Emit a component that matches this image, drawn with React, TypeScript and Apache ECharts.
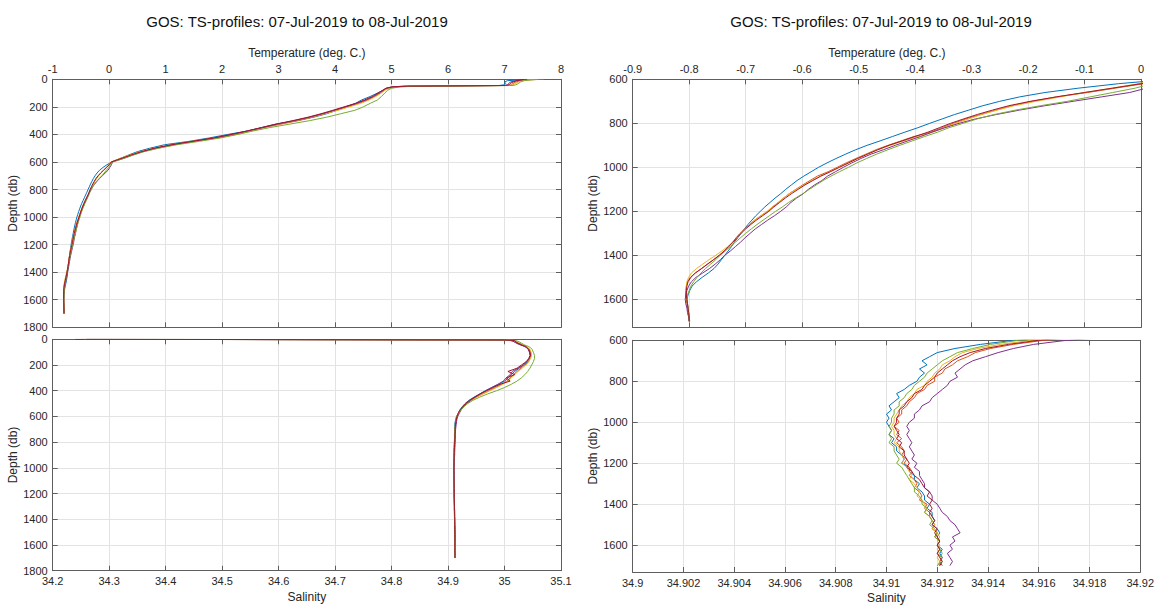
import React, { useEffect, useRef } from "react";
import * as echarts from "echarts";

// ---------- data ----------
const titleText = "GOS: TS-profiles: 07-Jul-2019 to 08-Jul-2019";
const castNames = ["Cast 1", "Cast 2", "Cast 3", "Cast 4", "Cast 5", "Cast 6"];
const castColors = ["#0072BD", "#D95319", "#EDB120", "#7E2F8E", "#77AC30", "#A2142F"];

const depthShallow = [0, 5, 10, 20, 30, 40, 45, 50, 55, 65, 80, 100, 125, 150, 175, 200, 225, 250, 275, 300, 325, 350, 375, 400, 425, 450, 475, 500, 525, 550, 575];
const depthDeep = [600, 620, 640, 660, 680, 700, 720, 740, 760, 780, 800, 820, 840, 860, 880, 900, 920, 940, 960, 980, 1000, 1020, 1040, 1060, 1080, 1100, 1120, 1140, 1160, 1180, 1200, 1220, 1240, 1260, 1280, 1300, 1320, 1340, 1360, 1380, 1400, 1420, 1440, 1460, 1480, 1500, 1520, 1540, 1560, 1580, 1600, 1620, 1640, 1660, 1680, 1700];

// temperature, upper 600 db
const tempShallow1 = [7.30, 7.25, 7.05, 7.0, 7.02, 7.0, 6.9, 5.35, 5.05, 4.95, 4.85, 4.75, 4.62, 4.47, 4.36, 4.2, 4.03, 3.85, 3.62, 3.32, 2.95, 2.7, 2.45, 2.1, 1.78, 1.42, 0.98, 0.72, 0.5, 0.34, 0.19];
const tempShallow2 = [7.70, 7.35, 7.28, 7.2, 7.15, 7.12, 7.05, 5.25, 5.0, 4.92, 4.87, 4.8, 4.7, 4.58, 4.42, 4.22, 4.02, 3.8, 3.6, 3.35, 3.05, 2.75, 2.5, 2.25, 1.92, 1.5, 1.15, 0.85, 0.58, 0.38, 0.2];
const tempShallow3 = [7.55, 7.4, 7.3, 7.25, 7.2, 7.15, 7.1, 5.3, 5.05, 4.95, 4.88, 4.82, 4.72, 4.6, 4.45, 4.25, 4.05, 3.82, 3.58, 3.3, 3.0, 2.72, 2.48, 2.2, 1.9, 1.45, 1.1, 0.8, 0.56, 0.36, 0.19];
const tempShallow4 = [7.4, 7.3, 7.2, 7.1, 7.08, 7.05, 7.0, 5.2, 5.0, 4.9, 4.85, 4.78, 4.68, 4.55, 4.38, 4.18, 3.98, 3.78, 3.55, 3.28, 2.98, 2.72, 2.45, 2.18, 1.88, 1.5, 1.12, 0.82, 0.6, 0.42, 0.25];
const tempShallow5 = [7.6, 7.45, 7.35, 7.28, 7.25, 7.2, 7.15, 5.45, 5.15, 5.0, 4.93, 4.88, 4.82, 4.75, 4.62, 4.5, 4.35, 4.1, 3.85, 3.55, 3.2, 2.85, 2.55, 2.28, 1.98, 1.6, 1.2, 0.88, 0.62, 0.42, 0.25];
const tempShallow6 = [7.35, 7.28, 7.22, 7.15, 7.1, 7.08, 7.02, 5.28, 5.02, 4.9, 4.84, 4.76, 4.66, 4.52, 4.36, 4.16, 3.96, 3.75, 3.52, 3.25, 2.96, 2.7, 2.44, 2.16, 1.86, 1.47, 1.1, 0.8, 0.57, 0.38, 0.21];

// temperature, 600-1700 db
const tempDeep1 = [0.05, -0.04, -0.11, -0.17, -0.215, -0.25, -0.28, -0.305, -0.33, -0.352, -0.374, -0.395, -0.418, -0.44, -0.462, -0.485, -0.505, -0.523, -0.54, -0.556, -0.571, -0.584, -0.597, -0.609, -0.619, -0.629, -0.638, -0.648, -0.657, -0.666, -0.674, -0.682, -0.689, -0.696, -0.702, -0.708, -0.714, -0.720, -0.725, -0.731, -0.737, -0.743, -0.749, -0.756, -0.766, -0.777, -0.787, -0.795, -0.799, -0.802, -0.804, -0.803, -0.802, -0.801, -0.800, -0.799];
const tempDeep2 = [0.04, 0.005, -0.045, -0.095, -0.15, -0.192, -0.228, -0.257, -0.284, -0.31, -0.332, -0.352, -0.372, -0.402, -0.425, -0.448, -0.469, -0.487, -0.505, -0.522, -0.538, -0.554, -0.573, -0.586, -0.599, -0.611, -0.623, -0.633, -0.642, -0.652, -0.661, -0.673, -0.684, -0.693, -0.702, -0.71, -0.717, -0.723, -0.73, -0.737, -0.746, -0.757, -0.767, -0.778, -0.789, -0.798, -0.803, -0.805, -0.806, -0.806, -0.805, -0.804, -0.803, -0.802, -0.801, -0.800];
const tempDeep3 = [0.03, -0.005, -0.05, -0.1, -0.143, -0.186, -0.225, -0.255, -0.282, -0.305, -0.328, -0.349, -0.369, -0.394, -0.42, -0.444, -0.466, -0.485, -0.502, -0.518, -0.535, -0.551, -0.567, -0.583, -0.597, -0.61, -0.623, -0.633, -0.643, -0.653, -0.662, -0.673, -0.684, -0.692, -0.701, -0.709, -0.716, -0.723, -0.732, -0.742, -0.753, -0.765, -0.776, -0.787, -0.796, -0.801, -0.804, -0.805, -0.805, -0.804, -0.804, -0.803, -0.802, -0.801, -0.800, -0.800];
const tempDeep4 = [0.06, 0.04, 0.01, -0.02, -0.07, -0.12, -0.17, -0.215, -0.256, -0.293, -0.322, -0.347, -0.37, -0.39, -0.413, -0.435, -0.456, -0.478, -0.496, -0.512, -0.527, -0.541, -0.555, -0.565, -0.578, -0.589, -0.598, -0.61, -0.62, -0.628, -0.638, -0.649, -0.661, -0.672, -0.683, -0.692, -0.701, -0.709, -0.718, -0.727, -0.737, -0.745, -0.754, -0.764, -0.776, -0.788, -0.796, -0.801, -0.804, -0.806, -0.807, -0.806, -0.804, -0.803, -0.801, -0.800];
const tempDeep5 = [0.05, 0.02, -0.01, -0.05, -0.09, -0.13, -0.178, -0.222, -0.26, -0.29, -0.315, -0.34, -0.36, -0.383, -0.405, -0.427, -0.448, -0.468, -0.486, -0.503, -0.518, -0.534, -0.549, -0.563, -0.575, -0.587, -0.599, -0.612, -0.624, -0.635, -0.647, -0.658, -0.669, -0.68, -0.69, -0.7, -0.709, -0.718, -0.727, -0.736, -0.745, -0.753, -0.762, -0.771, -0.779, -0.786, -0.792, -0.797, -0.8, -0.803, -0.804, -0.803, -0.802, -0.801, -0.800, -0.800];
const tempDeep6 = [0.035, 0.0, -0.05, -0.1, -0.15, -0.196, -0.234, -0.263, -0.29, -0.314, -0.337, -0.357, -0.377, -0.4, -0.423, -0.446, -0.466, -0.484, -0.502, -0.518, -0.534, -0.55, -0.567, -0.581, -0.595, -0.607, -0.619, -0.63, -0.64, -0.65, -0.659, -0.67, -0.681, -0.691, -0.7, -0.708, -0.716, -0.722, -0.73, -0.738, -0.747, -0.757, -0.768, -0.778, -0.789, -0.797, -0.802, -0.804, -0.805, -0.805, -0.804, -0.803, -0.802, -0.801, -0.800, -0.800];

// salinity, upper 600 db
const salShallow1 = [34.26, 35.0, 35.012, 35.018, 35.022, 35.027, 35.03, 35.033, 35.036, 35.04, 35.043, 35.045, 35.046, 35.044, 35.04, 35.034, 35.026, 35.018, 35.012, 35.007, 35.0, 34.99, 34.978, 34.966, 34.956, 34.946, 34.937, 34.93, 34.925, 34.921, 34.918];
const salShallow2 = [34.25, 34.99, 35.01, 35.02, 35.025, 35.03, 35.032, 35.035, 35.038, 35.041, 35.044, 35.046, 35.047, 35.045, 35.042, 35.036, 35.029, 35.022, 35.016, 35.01, 35.004, 34.995, 34.984, 34.972, 34.961, 34.95, 34.94, 34.932, 34.926, 34.922, 34.919];
const salShallow3 = [34.255, 35.0, 35.015, 35.021, 35.026, 35.031, 35.033, 35.036, 35.039, 35.042, 35.045, 35.047, 35.048, 35.046, 35.043, 35.038, 35.031, 35.024, 35.018, 35.012, 35.006, 34.997, 34.986, 34.974, 34.962, 34.951, 34.941, 34.933, 34.927, 34.922, 34.919];
const salShallow4 = [34.26, 35.005, 35.014, 35.017, 35.021, 35.026, 35.029, 35.032, 35.035, 35.039, 35.042, 35.044, 35.045, 35.043, 35.039, 35.033, 35.024, 35.014, 35.01, 35.003, 34.998, 34.988, 34.977, 34.967, 34.957, 34.948, 34.94, 34.933, 34.927, 34.923, 34.92];
const salShallow5 = [34.265, 35.01, 35.02, 35.026, 35.03, 35.034, 35.036, 35.039, 35.042, 35.046, 35.049, 35.051, 35.053, 35.053, 35.051, 35.048, 35.045, 35.041, 35.036, 35.03, 35.022, 35.012, 35.0, 34.986, 34.97, 34.956, 34.944, 34.935, 34.928, 34.923, 34.919];
const salShallow6 = [34.24, 35.0, 35.018, 35.02, 35.024, 35.029, 35.031, 35.034, 35.037, 35.04, 35.043, 35.045, 35.046, 35.043, 35.038, 35.03, 35.022, 35.006, 35.018, 35.003, 35.01, 34.992, 34.98, 34.968, 34.957, 34.947, 34.938, 34.931, 34.926, 34.921, 34.918];

// salinity, 600-1700 db
const salDeep1 = [34.9150, 34.9137, 34.9127, 34.9120, 34.9117, 34.9114, 34.9116, 34.9113, 34.9115, 34.9113, 34.9112, 34.9109, 34.9107, 34.9104, 34.9105, 34.9103, 34.9101, 34.9102, 34.9100, 34.9101, 34.9100, 34.9101, 34.9102, 34.9101, 34.9103, 34.9102, 34.9104, 34.9104, 34.9106, 34.9107, 34.9106, 34.9109, 34.9109, 34.9111, 34.9111, 34.9113, 34.9112, 34.9114, 34.9115, 34.9115, 34.9117, 34.9116, 34.9118, 34.9118, 34.9119, 34.9118, 34.9120, 34.9121, 34.9120, 34.9121, 34.9120, 34.9122, 34.9121, 34.9122, 34.9121, 34.9122];
const salDeep2 = [34.9162, 34.9150, 34.9141, 34.9135, 34.9132, 34.9128, 34.9126, 34.9123, 34.9122, 34.9119, 34.9119, 34.9116, 34.9115, 34.9112, 34.9111, 34.9109, 34.9108, 34.9106, 34.9106, 34.9104, 34.9105, 34.9103, 34.9105, 34.9104, 34.9106, 34.9104, 34.9106, 34.9107, 34.9106, 34.9108, 34.9107, 34.9109, 34.9110, 34.9109, 34.9111, 34.9112, 34.9111, 34.9113, 34.9114, 34.9113, 34.9116, 34.9115, 34.9117, 34.9117, 34.9118, 34.9119, 34.9118, 34.9120, 34.9119, 34.9121, 34.9120, 34.9121, 34.9120, 34.9122, 34.9121, 34.9121];
const salDeep3 = [34.9157, 34.9145, 34.9136, 34.9130, 34.9127, 34.9125, 34.9122, 34.9121, 34.9119, 34.9118, 34.9116, 34.9115, 34.9112, 34.9111, 34.9109, 34.9108, 34.9106, 34.9105, 34.9104, 34.9103, 34.9103, 34.9102, 34.9103, 34.9103, 34.9104, 34.9103, 34.9105, 34.9105, 34.9106, 34.9107, 34.9106, 34.9108, 34.9109, 34.9110, 34.9109, 34.9111, 34.9112, 34.9113, 34.9112, 34.9114, 34.9115, 34.9116, 34.9115, 34.9117, 34.9118, 34.9119, 34.9118, 34.9120, 34.9121, 34.9120, 34.9121, 34.9120, 34.9121, 34.9120, 34.9121, 34.9120];
const salDeep4 = [34.9171, 34.9158, 34.9150, 34.9144, 34.9139, 34.9134, 34.9131, 34.9129, 34.9127, 34.9128, 34.9125, 34.9124, 34.9122, 34.9120, 34.9118, 34.9117, 34.9114, 34.9113, 34.9111, 34.9111, 34.9109, 34.9108, 34.9109, 34.9108, 34.9109, 34.9110, 34.9109, 34.9110, 34.9111, 34.9110, 34.9112, 34.9111, 34.9113, 34.9113, 34.9114, 34.9115, 34.9115, 34.9117, 34.9118, 34.9118, 34.9120, 34.9121, 34.9122, 34.9124, 34.9125, 34.9127, 34.9128, 34.9129, 34.9126, 34.9127, 34.9125, 34.9126, 34.9124, 34.9125, 34.9126, 34.9125];
const salDeep5 = [34.9152, 34.9141, 34.9134, 34.9128, 34.9125, 34.9122, 34.9120, 34.9118, 34.9116, 34.9115, 34.9113, 34.9111, 34.9110, 34.9108, 34.9107, 34.9105, 34.9105, 34.9103, 34.9103, 34.9102, 34.9102, 34.9101, 34.9102, 34.9101, 34.9102, 34.9101, 34.9103, 34.9103, 34.9104, 34.9105, 34.9104, 34.9106, 34.9107, 34.9108, 34.9109, 34.9110, 34.9111, 34.9111, 34.9113, 34.9114, 34.9114, 34.9116, 34.9115, 34.9117, 34.9118, 34.9117, 34.9119, 34.9120, 34.9119, 34.9121, 34.9120, 34.9121, 34.9122, 34.9121, 34.9122, 34.9120];
const salDeep6 = [34.9160, 34.9148, 34.9139, 34.9133, 34.9129, 34.9126, 34.9124, 34.9122, 34.9120, 34.9119, 34.9117, 34.9115, 34.9114, 34.9111, 34.9110, 34.9108, 34.9107, 34.9105, 34.9105, 34.9104, 34.9104, 34.9103, 34.9104, 34.9105, 34.9104, 34.9106, 34.9105, 34.9107, 34.9107, 34.9108, 34.9109, 34.9108, 34.9110, 34.9111, 34.9113, 34.9114, 34.9115, 34.9117, 34.9116, 34.9118, 34.9117, 34.9118, 34.9117, 34.9118, 34.9119, 34.9118, 34.9120, 34.9119, 34.9120, 34.9121, 34.9120, 34.9121, 34.9120, 34.9121, 34.9122, 34.9121];

const tempShallowAll = [tempShallow1, tempShallow2, tempShallow3, tempShallow4, tempShallow5, tempShallow6];
const tempDeepAll = [tempDeep1, tempDeep2, tempDeep3, tempDeep4, tempDeep5, tempDeep6];
const salShallowAll = [salShallow1, salShallow2, salShallow3, salShallow4, salShallow5, salShallow6];
const salDeepAll = [salDeep1, salDeep2, salDeep3, salDeep4, salDeep5, salDeep6];

// ---------- styling ----------
const FONT = "'Liberation Sans', Arial, Helvetica, sans-serif";
const AXIS_COLOR = "#5e5e5e";
const TEXT_COLOR = "#262626";
const GRID_COLOR = "#e3e3e3";

const fmt = (dec: number) => (v: number) => String(parseFloat(v.toFixed(dec)));
const depthFmt = (v: number) => (Math.abs(v % 200) < 1e-6 ? String(v) : "");

function mainAxis(gridIndex: number, position: string, min: number, max: number, interval: number, name: string, formatter: any, nameGap: number, labelMargin: number) {
  return {
    type: "value",
    gridIndex,
    position,
    min,
    max,
    interval,
    name,
    nameLocation: "middle",
    nameGap,
    nameTextStyle: { fontSize: 12, color: TEXT_COLOR, fontFamily: FONT },
    axisLine: { show: true, onZero: false, lineStyle: { color: AXIS_COLOR, width: 1 } },
    axisTick: { show: true, inside: true, length: 5, lineStyle: { color: AXIS_COLOR, width: 1 } },
    axisLabel: { show: true, margin: labelMargin, fontSize: 11, color: TEXT_COLOR, fontFamily: FONT, formatter },
    splitLine: { show: true, lineStyle: { color: GRID_COLOR, width: 1 } },
  };
}

function mirrorAxis(gridIndex: number, position: string, min: number, max: number, interval: number) {
  return {
    type: "value",
    gridIndex,
    position,
    min,
    max,
    interval,
    axisLine: { show: true, onZero: false, lineStyle: { color: AXIS_COLOR, width: 1 } },
    axisTick: { show: true, inside: true, length: 5, lineStyle: { color: AXIS_COLOR, width: 1 } },
    axisLabel: { show: false },
    splitLine: { show: false },
  };
}

function yAxes(gridIndex: number, min: number, max: number) {
  const main: any = mainAxis(gridIndex, "left", min, max, 200, "Depth (db)", depthFmt, 33, 5);
  main.inverse = true;
  const mirror: any = mirrorAxis(gridIndex, "right", min, max, 200);
  mirror.inverse = true;
  return [main, mirror];
}

function buildOption() {
  const depthAll = [...depthShallow, ...depthDeep];
  const grids = [
    { left: 52.7, top: 79.3, width: 508.3, height: 248 },
    { left: 52.7, top: 339.3, width: 508.3, height: 231.4 },
    { left: 632.7, top: 79.3, width: 508.3, height: 248 },
    { left: 632.7, top: 340.3, width: 508.3, height: 232.4 },
  ];
  const xAxis = [
    mainAxis(0, "top", -1, 8, 1, "Temperature (deg. C.)", fmt(1), 20, 5),
    mirrorAxis(0, "bottom", -1, 8, 1),
    mainAxis(1, "bottom", 34.2, 35.1, 0.1, "Salinity", fmt(1), 20, 5),
    mirrorAxis(1, "top", 34.2, 35.1, 0.1),
    mainAxis(2, "top", -0.9, 0, 0.1, "Temperature (deg. C.)", fmt(1), 20, 5),
    mirrorAxis(2, "bottom", -0.9, 0, 0.1),
    mainAxis(3, "bottom", 34.9, 34.92, 0.002, "Salinity", fmt(3), 20, 5),
    mirrorAxis(3, "top", 34.9, 34.92, 0.002),
  ];
  const yAxis = [
    ...yAxes(0, 0, 1800),
    ...yAxes(1, 0, 1800),
    ...yAxes(2, 600, 1727),
    ...yAxes(3, 600, 1731),
  ];
  const series: any[] = [];
  for (let g = 0; g < 4; g++) {
    const isTemp = g === 0 || g === 2;
    for (let i = 0; i < castNames.length; i++) {
      const vals = isTemp
        ? [...tempShallowAll[i], ...tempDeepAll[i]]
        : [...salShallowAll[i], ...salDeepAll[i]];
      series.push({
        type: "line",
        name: castNames[i],
        xAxisIndex: g * 2,
        yAxisIndex: g * 2,
        data: vals.map((v, k) => [v, depthAll[k]]),
        showSymbol: false,
        symbol: "none",
        clip: true,
        silent: true,
        lineStyle: { width: 1, color: castColors[i] },
        itemStyle: { color: castColors[i] },
      });
    }
  }
  return {
    animation: false,
    backgroundColor: "#ffffff",
    textStyle: { fontFamily: FONT },
    grid: grids,
    xAxis,
    yAxis,
    series,
    graphic: [
      {
        type: "text",
        x: 297,
        y: 21,
        style: { text: titleText, fill: "#111111", font: `15px ${FONT}`, align: "center", verticalAlign: "middle" },
      },
      {
        type: "text",
        x: 881,
        y: 21,
        style: { text: titleText, fill: "#111111", font: `15px ${FONT}`, align: "center", verticalAlign: "middle" },
      },
    ],
  };
}

export default function App() {
  const ref = useRef<HTMLDivElement>(null);
  useEffect(() => {
    if (!ref.current) return;
    const chart = echarts.init(ref.current, undefined, { renderer: "svg" });
    chart.setOption(buildOption() as any);
    return () => chart.dispose();
  }, []);
  return (
    <div
      ref={ref}
      style={{ position: "absolute", left: 0, top: 0, width: 1157, height: 605, background: "#fff" }}
    />
  );
}
